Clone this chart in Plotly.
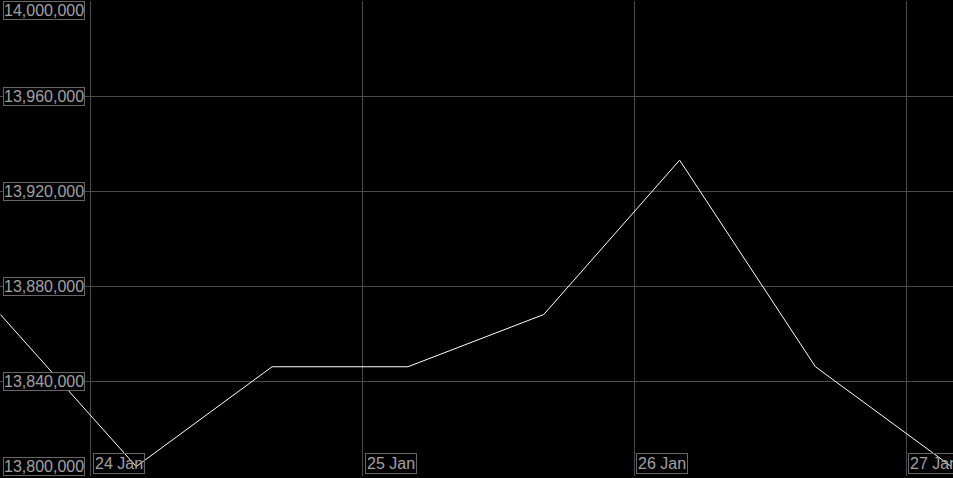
import plotly.graph_objects as go

times = ["2024-01-23 16:00", "2024-01-24 04:00", "2024-01-24 16:00", "2024-01-25 04:00",
         "2024-01-25 16:00", "2024-01-26 04:00", "2024-01-26 16:00", "2024-01-27 04:00"]
values = [13868000, 13804000, 13846000, 13846000, 13868000, 13933000, 13846000, 13804000]

y_ticks = [13800000, 13840000, 13880000, 13920000, 13960000, 14000000]
y_labels = ["13,800,000", "13,840,000", "13,880,000", "13,920,000", "13,960,000", "14,000,000"]
x_ticks = ["2024-01-24", "2024-01-25", "2024-01-26", "2024-01-27"]
x_labels = ["24 Jan", "25 Jan", "26 Jan", "27 Jan"]

x_range = ["2024-01-23 15:58", "2024-01-27 04:09"]
y_range = [13800000, 14000000]

grid = "#4a4a4a"
txt = "#a0a0a0"
box = "#666666"
font = dict(family="Liberation Sans, Arial, sans-serif", size=16, color=txt)

fig = go.Figure()
fig.add_trace(go.Scatter(x=times, y=values, mode="lines",
                         line=dict(color="white", width=1), hoverinfo="skip"))

ann = []
for v, lab in zip(y_ticks, y_labels):
    if v == y_range[1]:
        ya = "top"
    elif v == y_range[0]:
        ya = "bottom"
    else:
        ya = "middle"
    ann.append(dict(x=0, xref="paper", xanchor="left", xshift=3, y=v, yref="y", yanchor=ya,
                    text=lab, showarrow=False, font=font, bgcolor="black",
                    bordercolor=box, borderwidth=1, borderpad=0))
for t, lab in zip(x_ticks, x_labels):
    ann.append(dict(x=t, xref="x", xanchor="left", xshift=2, y=0, yref="paper", yanchor="bottom",
                    yshift=2, text=lab, showarrow=False, font=font, bgcolor="rgba(0,0,0,0)",
                    bordercolor=box, borderwidth=1, borderpad=1))

fig.update_layout(
    width=953, height=478,
    margin=dict(l=0, r=0, t=1, b=2),
    paper_bgcolor="black", plot_bgcolor="black",
    showlegend=False,
    annotations=ann,
    xaxis=dict(type="date", range=x_range, tickvals=x_ticks, showticklabels=False,
               showgrid=True, gridcolor=grid, gridwidth=1, zeroline=False, showline=False),
    yaxis=dict(range=y_range, tickvals=y_ticks, showticklabels=False,
               showgrid=True, gridcolor=grid, gridwidth=1, zeroline=False, showline=False),
)

fig.write_html("out.html", config={"displayModeBar": False},
               post_script="document.body.style.margin='0';document.body.style.padding='0';"
                           "document.body.style.overflow='hidden';document.body.style.background='black';")
